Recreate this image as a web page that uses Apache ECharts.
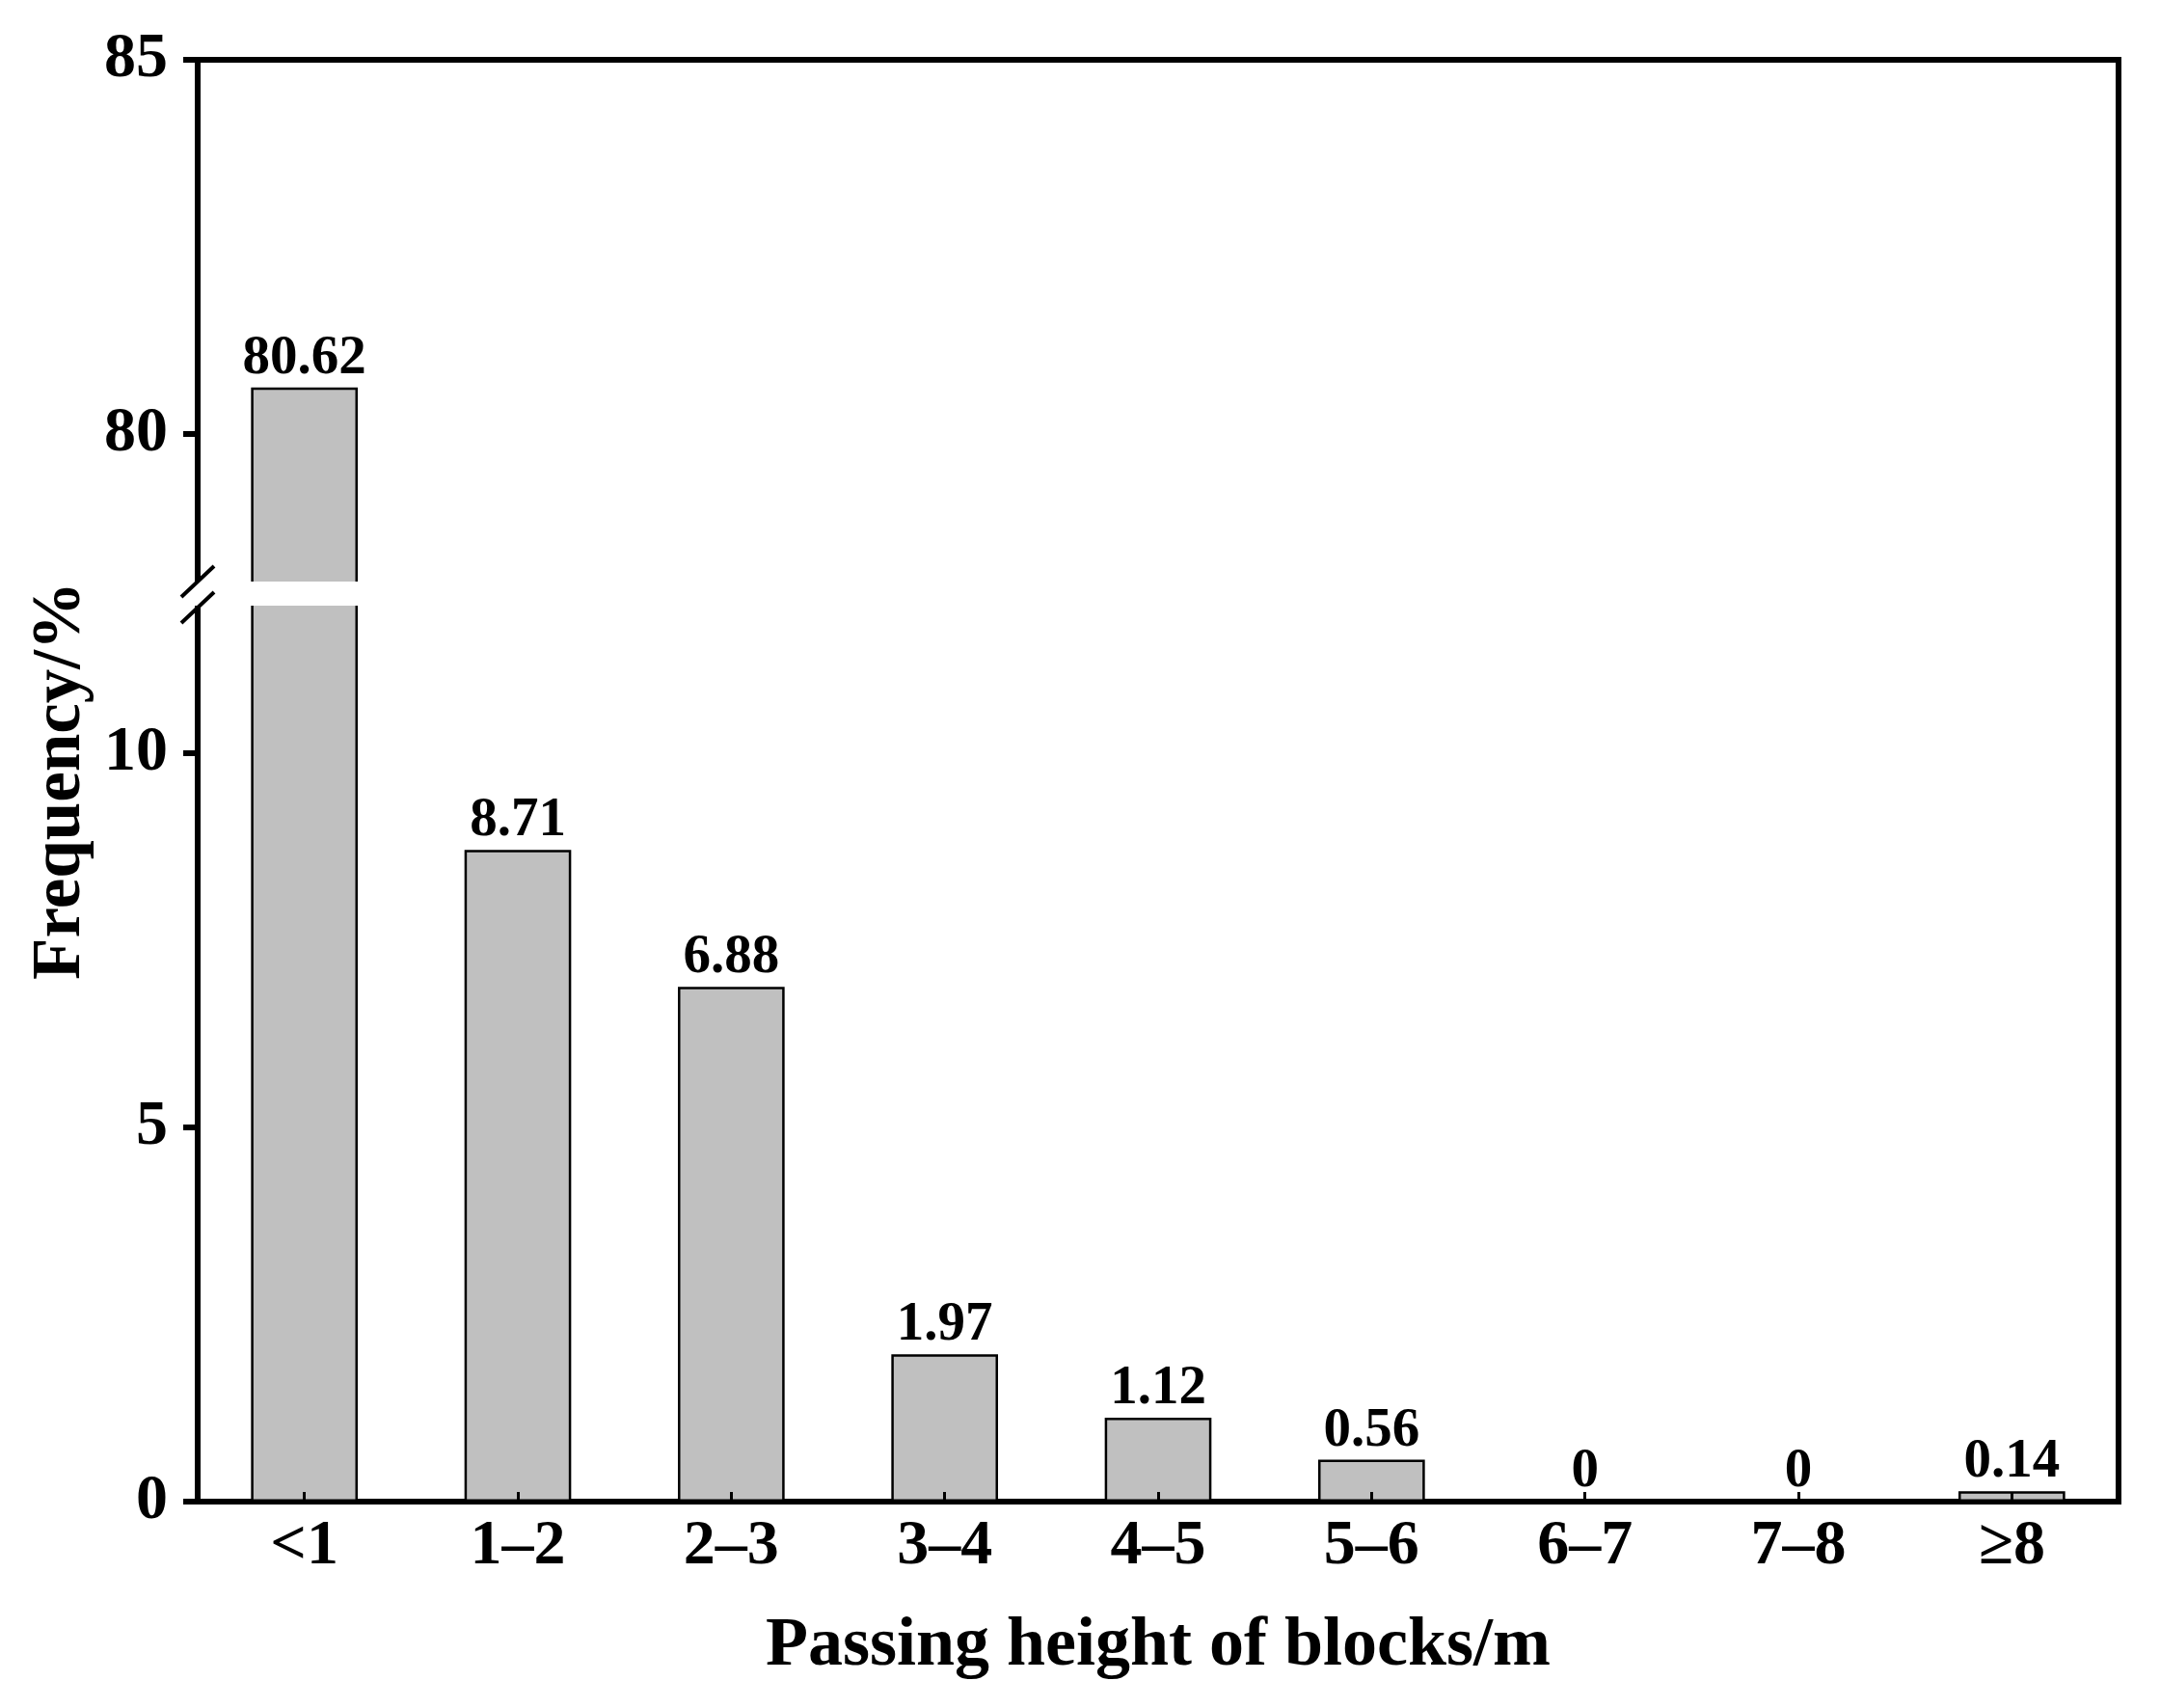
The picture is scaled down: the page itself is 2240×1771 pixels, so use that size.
<!DOCTYPE html>
<html><head><meta charset="utf-8">
<script src="https://cdn.jsdelivr.net/npm/echarts@6/dist/echarts.min.js"></script>
<style>html,body{margin:0;padding:0;background:#fff}#c{width:2240px;height:1771px}</style>
</head><body><div id="c"></div>
<script>
// ---- data ----
const categories = ['<1', '1–2', '2–3', '3–4', '4–5', '5–6', '6–7', '7–8', '≥8'];
const frequency = [80.62, 8.71, 6.88, 1.97, 1.12, 0.56, 0, 0, 0.14];
const lowerRange = [0, 12];
const upperRange = [78, 85];
const lowerTicks = [0, 5, 10];
const upperTicks = [80, 85];
const xName = 'Passing height of blocks/m';
const yName = 'Frequency/%';

// ---- layout ----
const FONT = "'Liberation Serif', 'Times New Roman', serif";
const W = 2240, H = 1771;
const L = 205, R = 43, T = 62, B = 214;
const upperBottomPx = 605, lowerTopPx = 626;

const chart = echarts.init(document.getElementById('c'), null, {renderer: 'canvas'});

const lowerData = frequency.map(v => v > lowerRange[1] ? {value: v, label: {show: false}} : v);
const upperData = frequency.map(v => v > upperRange[0] ? v : '-');

const barStyle = {color: '#c0c0c0', borderColor: '#000', borderWidth: 2.5};
const labelStyle = {show: true, position: 'top', distance: 1, color: '#000',
  fontFamily: FONT, fontWeight: 'bold', fontSize: 57};

const yLabel = {color: '#000', fontFamily: FONT, fontWeight: 'bold', fontSize: 66, margin: 31};

chart.setOption({
  backgroundColor: '#fff',
  animation: false,
  grid: [
    {left: L, right: R, top: T, bottom: H - upperBottomPx},
    {left: L, right: R, top: lowerTopPx, bottom: B},
    {left: L, right: R, top: T, bottom: B, show: true, borderColor: '#000', borderWidth: 6, backgroundColor: 'transparent', z: 0}
  ],
  xAxis: [
    {gridIndex: 0, type: 'category', data: categories, show: false},
    {gridIndex: 1, type: 'category', data: categories, z: 10,
      axisLine: {show: false},
      axisTick: {show: true, inside: true, alignWithLabel: true, length: 10, lineStyle: {color: '#000', width: 3}},
      axisLabel: {color: '#000', fontFamily: FONT, fontWeight: 'bold', fontSize: 66, margin: 14},
      name: xName, nameLocation: 'middle', nameGap: 114,
      nameTextStyle: {color: '#000', fontFamily: FONT, fontWeight: 'bold', fontSize: 72}
    },
    {gridIndex: 2, type: 'category', data: categories, show: false}
  ],
  yAxis: [
    {gridIndex: 0, type: 'value', min: upperRange[0], max: upperRange[1],
      axisLine: {show: false}, splitLine: {show: false},
      axisTick: {show: true, length: 15, customValues: upperTicks, lineStyle: {color: '#000', width: 6}},
      axisLabel: Object.assign({customValues: upperTicks}, yLabel)
    },
    {gridIndex: 1, type: 'value', min: lowerRange[0], max: lowerRange[1],
      axisLine: {show: false}, splitLine: {show: false},
      axisTick: {show: true, length: 15, customValues: lowerTicks, lineStyle: {color: '#000', width: 6}},
      axisLabel: Object.assign({customValues: lowerTicks}, yLabel)
    },
    {gridIndex: 2, type: 'value', show: false, splitLine: {show: false}}
  ],
  series: [
    {type: 'bar', xAxisIndex: 0, yAxisIndex: 0, data: upperData, barWidth: '50%',
      itemStyle: barStyle, label: labelStyle, z: 2},
    {type: 'bar', xAxisIndex: 1, yAxisIndex: 1, data: lowerData, barWidth: '50%',
      itemStyle: barStyle, label: labelStyle, z: 2}
  ],
  graphic: [
    {type: 'rect', z: 100, shape: {x: L - 10, y: upperBottomPx - 2, width: 190, height: (lowerTopPx - upperBottomPx) + 4},
      style: {fill: '#fff'}},
    {type: 'line', z: 101, shape: {x1: L - 17, y1: upperBottomPx + 14, x2: L + 17, y2: upperBottomPx - 18},
      style: {stroke: '#000', lineWidth: 4}},
    {type: 'line', z: 101, shape: {x1: L - 17, y1: lowerTopPx + 20, x2: L + 17, y2: lowerTopPx - 12},
      style: {stroke: '#000', lineWidth: 4}},
    {type: 'text', z: 101, x: 64, y: (T + (H - B)) / 2, rotation: Math.PI / 2,
      style: {text: yName, fill: '#000', font: 'bold 71px ' + FONT, textAlign: 'center', textVerticalAlign: 'middle'}}
  ]
});
</script></body></html>
